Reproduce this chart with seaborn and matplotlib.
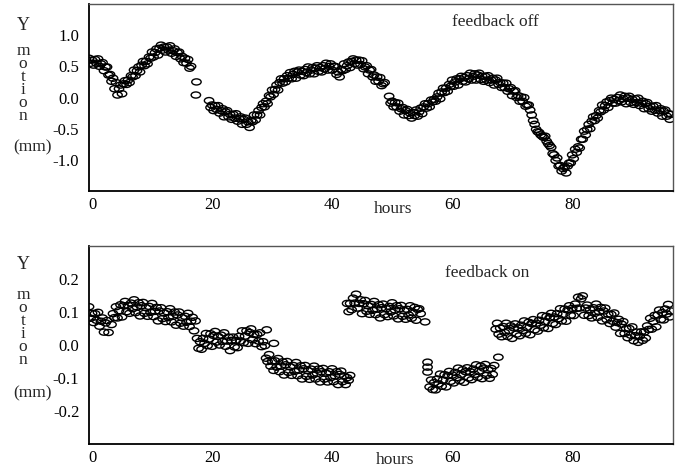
import numpy as np
import pandas as pd
import matplotlib
matplotlib.use("Agg")
import matplotlib.pyplot as plt
import matplotlib.transforms as mtransforms
from matplotlib.path import Path
from matplotlib.markers import MarkerStyle
import seaborn as sns

# ---------------- data ----------------
STEP = 0.25  # sampling interval in hours

# feedback off : segments (start hour, values every 0.25 h)
off_seg1_start = 0.0
off_seg1 = [0.63, 0.55, 0.60, 0.52,
            0.61, 0.55, 0.62, 0.50,
            0.54, 0.56, 0.43, 0.49,
            0.49, 0.36, 0.37, 0.26,
            0.31, 0.14, 0.24, 0.04,
            0.14, 0.20, 0.06, 0.22,
            0.27, 0.21, 0.28, 0.24,
            0.35, 0.33, 0.44, 0.35,
            0.43, 0.49, 0.41, 0.52,
            0.58, 0.51, 0.58, 0.54,
            0.65, 0.63, 0.73, 0.65,
            0.72, 0.78, 0.68, 0.79,
            0.84, 0.76, 0.81, 0.73,
            0.81, 0.76, 0.83, 0.71,
            0.75, 0.78, 0.66, 0.72,
            0.73, 0.62, 0.66, 0.56,
            0.63, 0.55, 0.61, 0.47,
            0.50]
off_seg2_start = 20.0
off_seg2 = [-0.05, -0.16, -0.12, -0.21,
            -0.13, -0.19, -0.13, -0.25,
            -0.21, -0.18, -0.31, -0.23,
            -0.21, -0.31, -0.27, -0.35,
            -0.27, -0.33, -0.26, -0.38,
            -0.34, -0.31, -0.43, -0.35,
            -0.33, -0.43, -0.39, -0.48,
            -0.37, -0.39, -0.28, -0.36,
            -0.28, -0.21, -0.28, -0.16,
            -0.10, -0.15, -0.06, -0.10,
            0.03, 0.01, 0.12, 0.05,
            0.13, 0.20, 0.12, 0.24,
            0.30, 0.23, 0.30, 0.25,
            0.35, 0.31, 0.40, 0.30,
            0.37, 0.42, 0.31, 0.41,
            0.44, 0.36, 0.42, 0.35,
            0.45, 0.40, 0.49, 0.38,
            0.44, 0.48, 0.38, 0.47,
            0.51, 0.42, 0.48, 0.41,
            0.51, 0.46, 0.55, 0.44,
            0.50, 0.54, 0.44, 0.50,
            0.50, 0.37, 0.41, 0.33,
            0.45, 0.43, 0.54, 0.45,
            0.51, 0.57, 0.48, 0.58,
            0.62, 0.54, 0.60, 0.52,
            0.60, 0.53, 0.59, 0.46,
            0.49, 0.51, 0.38, 0.44,
            0.45, 0.33, 0.36, 0.26,
            0.33, 0.26, 0.32, 0.19,
            0.22, 0.24]
off_seg3_start = 50.0
off_seg3 = [0.02, -0.09, -0.06, -0.15,
            -0.08, -0.15, -0.09, -0.22,
            -0.18, -0.16, -0.28, -0.21,
            -0.19, -0.29, -0.25, -0.33,
            -0.24, -0.29, -0.20, -0.30,
            -0.23, -0.17, -0.26, -0.15,
            -0.10, -0.17, -0.10, -0.15,
            -0.04, -0.07, -0.03, -0.06,
            0.01, 0.07, -0.02, 0.09,
            0.15, 0.08, 0.15, 0.10,
            0.21, 0.18, 0.28, 0.18,
            0.25, 0.30, 0.20, 0.30,
            0.34, 0.26, 0.32, 0.25,
            0.35, 0.30, 0.39, 0.28,
            0.34, 0.38, 0.28, 0.36,
            0.39, 0.29, 0.34, 0.26,
            0.34, 0.28, 0.35, 0.24,
            0.28, 0.31, 0.20, 0.28,
            0.31, 0.21, 0.24, 0.16,
            0.23, 0.16, 0.23, 0.10,
            0.14, 0.16, 0.03, 0.10,
            0.11, 0.00, 0.03, -0.06,
            0.01, -0.06, 0.00, -0.14,
            -0.12, -0.12, -0.20, -0.28,
            -0.37, -0.43, -0.51, -0.55,
            -0.56, -0.60, -0.62, -0.64,
            -0.62, -0.70, -0.74, -0.77,
            -0.80, -0.90, -0.92, -1.01,
            -0.97, -1.10, -1.09, -1.18,
            -1.14, -1.11, -1.21, -1.10,
            -1.05, -1.05, -0.92, -0.98,
            -0.83, -0.88, -0.79, -0.81,
            -0.67, -0.67, -0.54, -0.60,
            -0.51, -0.43, -0.50, -0.38,
            -0.31, -0.37, -0.29, -0.33,
            -0.21, -0.23, -0.12, -0.20,
            -0.13, -0.07, -0.16, -0.05,
            -0.01, -0.09, -0.03, -0.09,
            0.00, -0.05, 0.04, -0.07,
            -0.02, 0.02, -0.10, -0.01,
            0.02, -0.08, -0.03, -0.11,
            -0.02, -0.08, -0.01, -0.13,
            -0.09, -0.06, -0.18, -0.10,
            -0.08, -0.18, -0.14, -0.22,
            -0.14, -0.20, -0.13, -0.25,
            -0.21, -0.18, -0.30, -0.22,
            -0.20, -0.30, -0.26, -0.35,
            -0.27]
off_iso_hours = [17.8, 17.9]
off_iso_vals = [0.04, 0.25]

# feedback on
on_seg1_start = 0.0
on_seg1 = [0.116, 0.081, 0.096, 0.068,
           0.095, 0.075, 0.099, 0.057,
           0.072, 0.082, 0.039, 0.067,
           0.074, 0.038]
on_seg2_start = 3.75
on_seg2 = [0.062,
           0.095, 0.083, 0.116, 0.082,
           0.104, 0.122, 0.085, 0.119,
           0.132, 0.101, 0.120, 0.096]
on_seg3_start = 7.0
on_seg3 = [0.127, 0.110, 0.137, 0.098,
           0.115, 0.128, 0.088, 0.119,
           0.129, 0.096, 0.113, 0.087,
           0.117, 0.099, 0.126, 0.086,
           0.102, 0.114, 0.073, 0.103,
           0.113, 0.080, 0.097, 0.071,
           0.101, 0.083, 0.110, 0.070,
           0.087, 0.100, 0.060, 0.091,
           0.100, 0.066, 0.083, 0.057,
           0.087, 0.069, 0.096, 0.056,
           0.072, 0.084, 0.043, 0.073]
on_seg4_start = 18.0
on_seg4 = [0.020, -0.010, 0.010, -0.013,
           0.020, 0.005, 0.035, -0.002,
           0.018, 0.034, -0.004, 0.029,
           0.041, 0.009, 0.026, 0.000,
           0.030, 0.011, 0.037, -0.004,
           0.012, 0.024, -0.017, 0.014,
           0.024, -0.006, 0.014, -0.008,
           0.026, 0.012, 0.043, 0.007,
           0.027, 0.043, 0.005, 0.038,
           0.049, 0.016, 0.032, 0.004,
           0.032, 0.012, 0.037, -0.005,
           0.010]
on_seg5_start = 29.5
on_seg5 = [-0.040, -0.050,
           -0.029, -0.064, -0.049, -0.077,
           -0.048, -0.067, -0.041, -0.081,
           -0.064, -0.051, -0.091, -0.060,
           -0.050, -0.083, -0.066, -0.092,
           -0.062, -0.080, -0.053, -0.093,
           -0.076, -0.063, -0.103, -0.072,
           -0.062, -0.095, -0.078, -0.104,
           -0.073, -0.091, -0.064, -0.103,
           -0.086, -0.073, -0.112, -0.081,
           -0.071, -0.103, -0.086, -0.112,
           -0.081, -0.099, -0.072, -0.111,
           -0.094, -0.081, -0.120, -0.089,
           -0.079, -0.111, -0.094, -0.120,
           -0.099, -0.107, -0.092]
on_seg6_start = 43.0
on_seg6 = [0.126, 0.101, 0.126, 0.107,
           0.142, 0.127, 0.154, 0.112,
           0.126, 0.137, 0.095, 0.125,
           0.135, 0.102, 0.119, 0.093,
           0.123, 0.105, 0.132, 0.092,
           0.109, 0.122, 0.082, 0.113,
           0.124, 0.092, 0.110, 0.086,
           0.117, 0.100, 0.128, 0.088,
           0.106, 0.119, 0.079, 0.110,
           0.120, 0.087, 0.104, 0.078,
           0.108, 0.091, 0.119, 0.081,
           0.099, 0.114, 0.075, 0.108,
           0.110, 0.095]
on_seg7_start = 56.75
on_seg7 = [-0.127,
           -0.106, -0.135, -0.114, -0.136,
           -0.103, -0.118, -0.088, -0.125,
           -0.106, -0.090, -0.127, -0.093,
           -0.080, -0.110, -0.091, -0.115,
           -0.083, -0.099, -0.070, -0.108,
           -0.089, -0.075, -0.113, -0.081,
           -0.069, -0.100, -0.081, -0.105,
           -0.073, -0.089, -0.060, -0.098,
           -0.079, -0.064, -0.102, -0.070,
           -0.059, -0.092, -0.075, -0.101,
           -0.071, -0.089, -0.062]
on_seg8_start = 67.75
on_seg8 = [0.048,
           0.066, 0.033, 0.051, 0.025,
           0.056, 0.038, 0.066, 0.026,
           0.044, 0.058, 0.020, 0.052,
           0.064, 0.033, 0.052, 0.028,
           0.060, 0.044, 0.073, 0.035,
           0.054, 0.069, 0.031, 0.065,
           0.077, 0.046, 0.066, 0.042,
           0.075, 0.060, 0.089, 0.052,
           0.071, 0.087, 0.050, 0.083,
           0.096, 0.065, 0.085, 0.062,
           0.095, 0.080, 0.110, 0.073,
           0.093, 0.109, 0.072, 0.106,
           0.119, 0.090, 0.111, 0.089,
           0.124, 0.111, 0.145, 0.112,
           0.140, 0.149, 0.090, 0.112,
           0.121, 0.089, 0.107, 0.082,
           0.113, 0.096, 0.124, 0.084,
           0.101, 0.114, 0.073, 0.103,
           0.112, 0.077, 0.093, 0.065,
           0.093, 0.072, 0.097, 0.054,
           0.068, 0.078, 0.035, 0.063,
           0.071, 0.035, 0.050, 0.022,
           0.050, 0.030, 0.055, 0.013,
           0.028, 0.039, 0.008, 0.027,
           0.040, 0.014, 0.039, 0.021,
           0.058, 0.047, 0.081, 0.048,
           0.071, 0.090, 0.055, 0.091,
           0.106, 0.077, 0.098, 0.076,
           0.109, 0.094, 0.123, 0.085,
           0.103]
on_iso_hours = [29.3, 29.6, 30.8, 56.0, 56.4, 56.4, 56.4, 68.2]
on_iso_vals = [-0.002, 0.046, 0.005, 0.070, -0.052, -0.067, -0.082, -0.037]

off_yticks = [-1.0, -0.5, 0.0, 0.5, 1.0]
off_yticklabels = ["-1.0", "-0.5", "0.0", "0.5", "1.0"]
on_yticks = [-0.2, -0.1, 0.0, 0.1, 0.2]
on_yticklabels = ["-0.2", "-0.1", "0.0", "0.1", "0.2"]
xticks = [0, 20, 40, 60, 80]
xticklabels = ["0", "20", "40", "60", "80"]


def build(segments, iso_h, iso_v):
    hs, vs = [], []
    for start, vals in segments:
        hs.extend(start + STEP * np.arange(len(vals)))
        vs.extend(vals)
    hs.extend(iso_h)
    vs.extend(iso_v)
    return pd.DataFrame({"hours": hs, "motion": vs})


df_off = build([(off_seg1_start, off_seg1), (off_seg2_start, off_seg2),
                (off_seg3_start, off_seg3)], off_iso_hours, off_iso_vals)
df_on = build([(on_seg1_start, on_seg1), (on_seg2_start, on_seg2),
               (on_seg3_start, on_seg3), (on_seg4_start, on_seg4),
               (on_seg5_start, on_seg5), (on_seg6_start, on_seg6),
               (on_seg7_start, on_seg7), (on_seg8_start, on_seg8)],
              on_iso_hours, on_iso_vals)

# ---------------- style ----------------
sns.set_style("white")
plt.rcParams["font.family"] = ["Liberation Serif", "DejaVu Serif"]
plt.rcParams["axes.unicode_minus"] = False

circ = Path.unit_circle()
ell = Path(circ.vertices * np.array([1.0, 0.65]), circ.codes)
marker = MarkerStyle(ell)

fig = plt.figure(figsize=(6.79, 4.76), dpi=100)
ax1 = fig.add_axes([0.1311, 0.5987, 0.8601, 0.3929])
ax2 = fig.add_axes([0.1311, 0.0672, 0.8601, 0.4160])


def draw(ax, df, ylim, yt, ytl):
    sns.scatterplot(data=df, x="hours", y="motion", ax=ax, marker=marker,
                    s=46, legend=False)
    coll = ax.collections[-1]
    coll.set_facecolor("none")
    coll.set_edgecolor("black")
    coll.set_linewidth(1.0)
    ax.set_xlim(0, 97.3)
    ax.set_ylim(*ylim)
    ax.set_xticks(xticks)
    ax.set_xticklabels(xticklabels)
    ax.set_yticks(yt)
    ax.set_yticklabels(ytl)
    ax.set_xlabel("")
    ax.set_ylabel("")
    ax.tick_params(axis="both", direction="in", length=4, width=1,
                   labelsize=12, colors="black")
    ax.tick_params(axis="x", pad=4)
    ax.tick_params(axis="y", pad=7)
    shift = mtransforms.ScaledTranslation(3 / 100, 0, fig.dpi_scale_trans)
    for lab in ax.get_xticklabels():
        lab.set_transform(lab.get_transform() + shift)
    for side in ["left", "bottom"]:
        ax.spines[side].set_color("black")
        ax.spines[side].set_linewidth(1.3)
    for side in ["top", "right"]:
        ax.spines[side].set_color("#555555")
        ax.spines[side].set_linewidth(1.0)
        ax.spines[side].set_visible(True)


draw(ax1, df_off, (-1.5, 1.5), off_yticks, off_yticklabels)
draw(ax2, df_on, (-0.3, 0.3), on_yticks, on_yticklabels)

ax1.text(0.695, 0.905, "feedback off", transform=ax1.transAxes,
         ha="center", va="center", fontsize=12.5)
ax2.text(0.682, 0.866, "feedback on", transform=ax2.transAxes,
         ha="center", va="center", fontsize=12.5)

fig.text(393 / 679, 1 - 209 / 476, "hours", ha="center", va="center",
         fontsize=12.5)
fig.text(395 / 679, 1 - 460 / 476, "hours", ha="center", va="center",
         fontsize=12.5)

for y_Y, y_mid, y_mm in [(0.947, 0.825, 0.691), (0.445, 0.313, 0.174)]:
    fig.text(0.034, y_Y, "Y", ha="center", va="center", fontsize=13)
    fig.text(0.034, y_mid, "m\no\nt\ni\no\nn", ha="center", va="center",
             fontsize=12.5, linespacing=0.75)
    fig.text(0.048, y_mm, "(mm)", ha="center", va="center", fontsize=12.5)

fig.savefig("out.png", dpi=100)
